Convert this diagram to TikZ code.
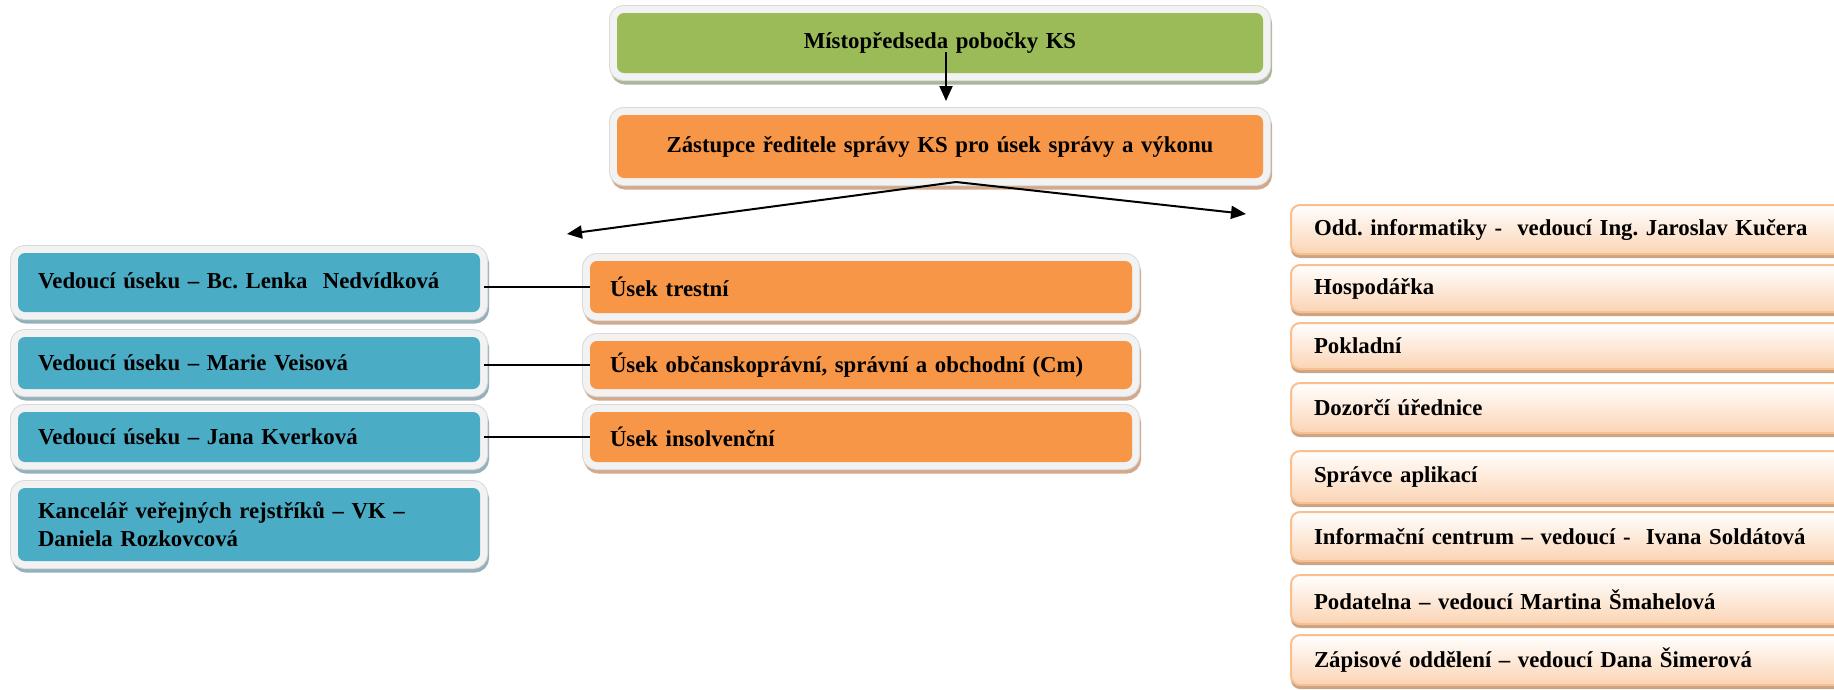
\documentclass[tikz,border=0pt]{standalone}
\usepackage{fontspec}
\setmainfont{Liberation Serif}
\usetikzlibrary{arrows.meta,calc}
\frenchspacing
\definecolor{grn}{HTML}{9BBB59}
\definecolor{grnsh}{HTML}{A9B89B}
\definecolor{org}{HTML}{F79646}
\definecolor{orgsh}{HTML}{D4A88A}
\definecolor{blu}{HTML}{4BACC6}
\definecolor{blush}{HTML}{94B1BB}
\definecolor{frm}{HTML}{F2F2F2}
\definecolor{frmline}{HTML}{DADADA}
\definecolor{pch}{HTML}{FBD4B4}
\definecolor{pchline}{HTML}{F9BF8F}
\definecolor{pchsh}{HTML}{C9A485}
\tikzset{
  txt/.style={font=\fontsize{22.8}{28}\selectfont\bfseries\frenchspacing, text=black},
  fbox/.style n args={4}{txt, fill=#1, rounded corners=7pt, anchor=north west,
    minimum width=#3, minimum height=#4, inner sep=0pt, outer sep=0pt,
    preaction={draw=#2, line width=15pt, transform canvas={yshift=-4pt, xshift=1.5pt}},
    preaction={draw=frmline, line width=16pt},
    preaction={draw=frm, line width=14pt}},
  lbox/.style n args={4}{fbox={#1}{#2}{#3}{#4}, text width=#3-40pt, align=left},
  cbox/.style n args={4}{fbox={#1}{#2}{#3}{#4}, text width=#3-40pt, align=center},
  rbox/.style={txt, anchor=north west, rounded corners=9pt, draw=pchline, line width=2pt,
    top color=white, bottom color=pch, minimum width=600pt, minimum height=#1,
    inner sep=0pt, outer sep=0pt, text width=554pt, align=left,
    preaction={fill=pchsh, transform canvas={yshift=-4pt}}},
  arr/.style={line width=2pt, -{Triangle[length=15pt,width=13pt]}},
  ln/.style={line width=1.8pt}
}
\begin{document}
\begin{tikzpicture}[x=1pt,y=-1pt]
\clip (0,0) rectangle (1834,689);
\fill[white] (0,0) rectangle (1834,689);
% top
\node[cbox={grn}{grnsh}{646pt}{60pt}] (g) at (617,13) {\raisebox{5pt}{Místopředseda pobočky KS}};
\node[cbox={org}{orgsh}{646pt}{63pt}] (z) at (617,115) {\raisebox{3pt}{Zástupce ředitele správy KS pro úsek správy a výkonu}};
% left blue
\node[lbox={blu}{blush}{462pt}{59pt}] (b1) at (18,253) {\raisebox{3pt}{Vedoucí úseku – Bc. Lenka\ \ Nedvídková}};
\node[lbox={blu}{blush}{462pt}{52pt}] (b2) at (18,337) {Vedoucí úseku – Marie Veisová};
\node[lbox={blu}{blush}{462pt}{50pt}] (b3) at (18,412) {Vedoucí úseku – Jana Kverková};
\node[lbox={blu}{blush}{462pt}{73pt}] (b4) at (18,488) {Kancelář veřejných rejstříků – VK –\\Daniela Rozkovcová};
% middle orange
\node[lbox={org}{orgsh}{542pt}{52pt}] (o1) at (590,261) {Úsek trestní};
\node[lbox={org}{orgsh}{542pt}{48pt}] (o2) at (590,341) {Úsek občanskoprávní, správní a obchodní (Cm)};
\node[lbox={org}{orgsh}{542pt}{50pt}] (o3) at (590,412) {Úsek insolvenční};
% right column
\node[rbox=49pt] (r1) at (1291,205) {Odd. informatiky -\ \ vedoucí Ing. Jaroslav Kučera};
\node[rbox=47pt] (r2) at (1291,265) {Hospodářka};
\node[rbox=46pt] (r3) at (1291,323) {Pokladní};
\node[rbox=50pt] (r4) at (1291,383) {Dozorčí úřednice};
\node[rbox=52pt] (r5) at (1291,451) {Správce aplikací};
\node[rbox=49pt] (r6) at (1291,512) {Informační centrum – vedoucí -\ \ Ivana Soldátová};
\node[rbox=49pt] (r7) at (1291,575) {Podatelna – vedoucí Martina Šmahelová};
\node[rbox=50pt] (r8) at (1291,635) {Zápisové oddělení – vedoucí Dana Šimerová};
% connectors
\coordinate (gs) at (946,52);
\coordinate (ge) at (946,101);
\draw[arr] (gs) -- (ge);
\coordinate (zs) at (956,182);
\coordinate (zl) at (567,234);
\coordinate (zr) at (1246,214);
\draw[arr] (zs) -- (zl);
\draw[arr] (zs) -- (zr);
\draw[ln] ([xshift=4pt]b1.east |- o1.west) -- (o1.west);
\draw[ln] ([xshift=4pt]b2.east |- o2.west) -- (o2.west);
\draw[ln] ([xshift=4pt]b3.east |- o3.west) -- (o3.west);
\end{tikzpicture}
\end{document}
